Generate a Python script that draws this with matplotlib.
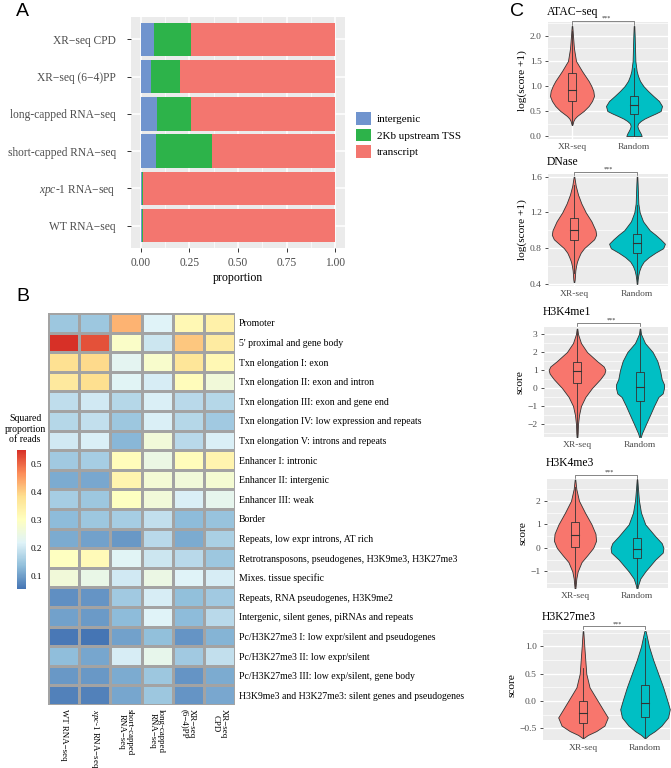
import matplotlib
matplotlib.use('Agg')
import matplotlib.pyplot as plt
import numpy as np
from matplotlib.colors import LinearSegmentedColormap
from matplotlib.patches import Patch, Rectangle
from matplotlib.ticker import MultipleLocator

plt.rcParams['font.family'] = ['Liberation Serif', 'DejaVu Serif']
plt.rcParams['mathtext.fontset'] = 'custom'
plt.rcParams['mathtext.rm'] = 'Liberation Serif'
plt.rcParams['mathtext.it'] = 'Liberation Serif:italic'

# ---------------- Panel A data ----------------
samples_A = ["XR−seq CPD", "XR−seq (6−4)PP", "long-capped RNA−seq",
             "short-capped RNA−seq", r"$\mathit{xpc}$-$\mathit{1}$ RNA−seq", "WT RNA−seq"]
intergenic = [0.067, 0.055, 0.082, 0.079, 0.004, 0.004]
upstream_tss = [0.193, 0.149, 0.174, 0.285, 0.008, 0.008]
transcript = [0.740, 0.796, 0.744, 0.636, 0.988, 0.988]
region_labels = ["intergenic", "2Kb upstream TSS", "transcript"]
region_colors = ["#7094CE", "#2DB34A", "#F3766F"]

# ---------------- Panel B data ----------------
states = ["Promoter", "5' proximal and gene body", "Txn elongation I: exon",
          "Txn elongation II: exon and intron", "Txn elongation III: exon and gene end",
          "Txn elongation IV: low expression and repeats", "Txn elongation V: introns and repeats",
          "Enhancer I: intronic", "Enhancer II: intergenic", "Enhancer III: weak", "Border",
          "Repeats, low expr introns, AT rich",
          "Retrotransposons, pseudogenes, H3K9me3, H3K27me3", "Mixes. tissue specific",
          "Repeats, RNA pseudogenes, H3K9me2", "Intergenic, silent genes, piRNAs and repeats",
          "Pc/H3K27me3 I: low expr/silent and pseudogenes", "Pc/H3K27me3 II: low expr/silent",
          "Pc/H3K27me3 III: low exp/silent, gene body",
          "H3K9me3 and H3K27me3: silent genes and pseudogenes"]
heat_cols = ["WT RNA−seq", r"$\mathit{xpc}$-$\mathit{1}$ RNA−seq", "short-capped\nRNA−seq",
             "long-capped\nRNA−seq", "XR−seq\n(6−4)PP", "XR−seq\nCPD"]
wt_rna = [0.15, 0.55, 0.38, 0.36, 0.185, 0.175, 0.205, 0.155, 0.115, 0.16,
          0.135, 0.115, 0.30, 0.265, 0.085, 0.105, 0.06, 0.138, 0.095, 0.07]
xpc_rna = [0.15, 0.52, 0.39, 0.385, 0.205, 0.19, 0.215, 0.16, 0.112, 0.15,
           0.15, 0.105, 0.315, 0.245, 0.09, 0.097, 0.055, 0.11, 0.095, 0.07]
short_capped = [0.43, 0.29, 0.23, 0.225, 0.175, 0.15, 0.13, 0.31, 0.33, 0.30,
                0.16, 0.095, 0.225, 0.205, 0.155, 0.135, 0.105, 0.21, 0.115, 0.11]
long_capped = [0.22, 0.20, 0.285, 0.21, 0.215, 0.215, 0.265, 0.25, 0.27, 0.265,
               0.19, 0.18, 0.20, 0.25, 0.21, 0.22, 0.14, 0.24, 0.15, 0.15]
xr_64pp = [0.32, 0.41, 0.37, 0.31, 0.18, 0.175, 0.18, 0.31, 0.265, 0.215,
           0.135, 0.115, 0.18, 0.22, 0.14, 0.135, 0.09, 0.155, 0.09, 0.09]
xr_cpd = [0.34, 0.355, 0.32, 0.265, 0.175, 0.155, 0.215, 0.33, 0.275, 0.235,
          0.145, 0.165, 0.15, 0.21, 0.155, 0.18, 0.125, 0.19, 0.115, 0.112]
cbar_ticks = [0.1, 0.2, 0.3, 0.4, 0.5]

# ---------------- Panel C data ----------------
groups = ["XR-seq", "Random"]
group_colors = ["#F8766D", "#00BFC4"]

atac_xr_y = [0.22, 0.30, 0.35, 0.40, 0.45, 0.50, 0.60, 0.70, 0.80, 0.90, 1.00, 1.10, 1.20, 1.30, 1.50, 1.75, 2.00, 2.20]
atac_xr_w = [0.005, 0.022, 0.043, 0.081, 0.134, 0.188, 0.269, 0.323, 0.355, 0.344, 0.312, 0.269, 0.215, 0.161, 0.065, 0.032, 0.016, 0.005]
atac_rd_y = [0.0, 0.05, 0.10, 0.15, 0.20, 0.25, 0.30, 0.35, 0.40, 0.45, 0.50, 0.60, 0.70, 0.80, 0.90, 1.00, 1.10, 1.20, 1.30, 1.50, 2.00, 2.20]
atac_rd_w = [0.124, 0.108, 0.086, 0.065, 0.054, 0.065, 0.108, 0.172, 0.258, 0.349, 0.430, 0.452, 0.403, 0.312, 0.226, 0.151, 0.097, 0.065, 0.043, 0.022, 0.011, 0.005]
atac_xr_box = [0.22, 0.70, 0.92, 1.27, 2.10]
atac_rd_box = [0.0, 0.45, 0.62, 0.81, 1.35]

dnase_xr_y = [0.42, 0.45, 0.50, 0.55, 0.60, 0.65, 0.70, 0.75, 0.80, 0.85, 0.90, 0.95, 1.00, 1.10, 1.20, 1.30, 1.40, 1.50, 1.60]
dnase_xr_w = [0.005, 0.011, 0.016, 0.021, 0.032, 0.048, 0.075, 0.107, 0.16, 0.24, 0.32, 0.352, 0.341, 0.277, 0.187, 0.117, 0.064, 0.027, 0.005]
dnase_rd_y = [0.40, 0.45, 0.50, 0.55, 0.60, 0.65, 0.70, 0.75, 0.80, 0.85, 0.90, 0.95, 1.00, 1.10, 1.20, 1.30, 1.40, 1.50, 1.60]
dnase_rd_w = [0.005, 0.011, 0.021, 0.037, 0.064, 0.107, 0.187, 0.293, 0.416, 0.443, 0.373, 0.293, 0.203, 0.096, 0.043, 0.021, 0.016, 0.011, 0.005]
dnase_xr_box = [0.52, 0.893, 0.998, 1.14, 1.51]
dnase_rd_box = [0.43, 0.747, 0.856, 0.96, 1.28]

k4me1_xr_y = [-2.8, -2.5, -2.0, -1.5, -1.0, -0.5, 0.0, 0.5, 0.8, 1.0, 1.2, 1.5, 2.0, 2.5, 3.0, 3.3]
k4me1_xr_w = [0.005, 0.011, 0.016, 0.032, 0.063, 0.132, 0.238, 0.37, 0.434, 0.45, 0.423, 0.317, 0.159, 0.063, 0.016, 0.005]
k4me1_rd_y = [-2.8, -2.5, -2.0, -1.5, -1.0, -0.5, -0.3, 0.0, 0.2, 0.5, 1.0, 1.5, 2.0, 2.5, 3.0, 3.3]
k4me1_rd_w = [0.005, 0.032, 0.095, 0.159, 0.222, 0.291, 0.36, 0.381, 0.381, 0.344, 0.317, 0.275, 0.201, 0.079, 0.016, 0.005]
k4me1_xr_box = [-2.8, 0.30, 0.92, 1.46, 3.2]
k4me1_rd_box = [-2.8, -0.73, 0.07, 0.90, 3.3]

k4me3_xr_y = [-1.75, -1.6, -1.3, -1.0, -0.6, -0.3, 0.0, 0.3, 0.6, 1.0, 1.5, 2.0, 2.5, 2.9]
k4me3_xr_w = [0.005, 0.011, 0.021, 0.043, 0.106, 0.202, 0.293, 0.34, 0.33, 0.266, 0.16, 0.064, 0.021, 0.005]
k4me3_rd_y = [-1.75, -1.6, -1.3, -1.0, -0.5, -0.2, 0.0, 0.2, 0.5, 1.0, 1.5, 2.0, 2.5, 2.9]
k4me3_rd_w = [0.005, 0.016, 0.053, 0.133, 0.293, 0.415, 0.426, 0.399, 0.293, 0.133, 0.064, 0.032, 0.016, 0.005]
k4me3_xr_box = [-1.6, 0.04, 0.54, 1.08, 2.6]
k4me3_rd_box = [-1.7, -0.41, -0.03, 0.43, 2.9]

k27me3_xr_y = [-0.68, -0.62, -0.55, -0.45, -0.30, -0.15, 0.0, 0.25, 0.5, 1.0, 1.28]
k27me3_xr_w = [0.005, 0.08, 0.213, 0.346, 0.4, 0.319, 0.239, 0.106, 0.053, 0.021, 0.005]
k27me3_rd_y = [-0.68, -0.62, -0.55, -0.45, -0.30, -0.15, 0.0, 0.25, 0.5, 0.75, 1.0, 1.28]
k27me3_rd_w = [0.005, 0.064, 0.16, 0.266, 0.372, 0.4, 0.362, 0.293, 0.213, 0.133, 0.064, 0.011]
k27me3_xr_box = [-0.68, -0.40, -0.21, 0.0, 0.6]
k27me3_rd_box = [-0.68, -0.29, -0.04, 0.29, 1.16]

violin_titles = ["ATAC−seq", "DNase", "H3K4me1", "H3K4me3", "H3K27me3"]
violin_ylabels = ["log(score +1)", "log(score +1)", "score", "score", "score"]
violin_ticks = [[0.0, 0.5, 1.0, 1.5, 2.0], [0.4, 0.8, 1.2, 1.6], [-2, -1, 0, 1, 2, 3],
                [-1, 0, 1, 2], [-0.5, 0.0, 0.5, 1.0]]
violin_ticklabels = [["0.0", "0.5", "1.0", "1.5", "2.0"], ["0.4", "0.8", "1.2", "1.6"],
                     ["−2", "−1", "0", "1", "2", "3"], ["−1", "0", "1", "2"],
                     ["−0.5", "0.0", "0.5", "1.0"]]

# ---------------- figure ----------------
W, H = 671, 768
fig = plt.figure(figsize=(W / 100, H / 100), dpi=100)


def add_ax(l, t, r, b):
    return fig.add_axes([l / W, 1 - b / H, (r - l) / W, (b - t) / H])


GREY_BG = "#EBEBEB"
TXT = "#4D4D4D"

# ---- Panel A ----
axA = add_ax(131, 17, 345, 248)
axA.set_facecolor(GREY_BG)
n = len(samples_A)
ypos = np.arange(n)
left = np.zeros(n)
for vals, col, lab in zip([intergenic, upstream_tss, transcript], region_colors, region_labels):
    axA.barh(ypos, vals, left=left, height=0.9, color=col, label=lab, zorder=3)
    left = left + np.array(vals)
axA.set_xlim(-0.05, 1.05)
axA.set_ylim(n - 0.4, -0.6)
axA.set_xticks([0, 0.25, 0.5, 0.75, 1.0])
axA.set_xticklabels(["0.00", "0.25", "0.50", "0.75", "1.00"])
axA.xaxis.set_minor_locator(MultipleLocator(0.125))
axA.grid(True, which='major', color='white', lw=1.1, zorder=0)
axA.grid(True, which='minor', axis='x', color='white', lw=0.5, zorder=0)
axA.set_yticks(ypos)
axA.set_yticklabels(samples_A)
axA.tick_params(axis='both', labelsize=8.3, labelcolor=TXT, color='#333333', length=3, width=0.7)
axA.tick_params(axis='y', pad=8)
axA.tick_params(axis='x', which='minor', length=0)
axA.set_xlabel("proportion", fontsize=8.6, labelpad=2)
for s in axA.spines.values():
    s.set_visible(False)
handles = [Patch(facecolor=c, edgecolor='none', label=l) for c, l in zip(region_colors, region_labels)]
fig.legend(handles=handles, loc='center left', bbox_to_anchor=(356 / W, 1 - 135 / H), frameon=False,
           fontsize=8, handlelength=1.35, handleheight=1.35, labelspacing=0.35, handletextpad=0.5,
           borderaxespad=0, borderpad=0)

# ---- Panel B ----
heat = np.array([wt_rna, xpc_rna, short_capped, long_capped, xr_64pp, xr_cpd]).T
cmap = LinearSegmentedColormap.from_list(
    "rdylbu7", ["#4575B4", "#91BFDB", "#E0F3F8", "#FFFFBF", "#FEE090", "#FC8D59", "#D73027"])
axB = add_ax(48, 313, 235, 705)
mesh = axB.pcolormesh(heat, cmap=cmap, vmin=0.055, vmax=0.55, edgecolors='#A3A3A3', linewidth=0.8)
axB.set_xlim(0, heat.shape[1])
axB.set_ylim(heat.shape[0], 0)
axB.set_yticks(np.arange(len(states)) + 0.5)
axB.set_yticklabels(states, fontsize=7)
axB.yaxis.tick_right()
axB.set_xticks(np.arange(len(heat_cols)) + 0.5)
axB.set_xticklabels(heat_cols, rotation=270, fontsize=6.4, va='top', ha='center', linespacing=1.0)
axB.tick_params(length=0, pad=3)
for s in axB.spines.values():
    s.set_visible(False)

cax = add_ax(17, 450, 26, 589)
cb = fig.colorbar(mesh, cax=cax)
cb.outline.set_visible(False)
cb.set_ticks(cbar_ticks)
cb.set_ticklabels([f"{t:.1f}" for t in cbar_ticks])
cax.tick_params(length=0, labelsize=6.6, pad=3)
fig.text(25 / W, 1 - 429 / H, "Squared\nproportion\nof reads", ha='center', va='center',
         fontsize=7, linespacing=1.15)

# ---- Panel C ----
violin_data = [
    (atac_xr_y, atac_xr_w, atac_rd_y, atac_rd_w, atac_xr_box, atac_rd_box),
    (dnase_xr_y, dnase_xr_w, dnase_rd_y, dnase_rd_w, dnase_xr_box, dnase_rd_box),
    (k4me1_xr_y, k4me1_xr_w, k4me1_rd_y, k4me1_rd_w, k4me1_xr_box, k4me1_rd_box),
    (k4me3_xr_y, k4me3_xr_w, k4me3_rd_y, k4me3_rd_w, k4me3_xr_box, k4me3_rd_box),
    (k27me3_xr_y, k27me3_xr_w, k27me3_rd_y, k27me3_rd_w, k27me3_xr_box, k27me3_rd_box),
]
# layout: (left, top, right, bottom, x of group 1, x of group 2, ymin, ymax, bracket_y, title_y)
violin_layout = [
    (548, 22, 668, 139, 572, 634, -0.06, 2.28, 2.30, 12),
    (548, 174, 668, 286, 574, 637, 0.377, 1.63, 1.655, 162),
    (544, 327, 668, 437, 577, 640, -2.72, 3.39, 3.61, 312),
    (547, 479, 668, 588, 575, 637, -1.70, 2.92, 3.09, 463),
    (543, 630, 670, 740, 583, 645, -0.713, 1.30, 1.37, 617),
]

for i, (data, lay) in enumerate(zip(violin_data, violin_layout)):
    l, t, r, b, x1, x2, y0, y1, yb, ty = lay
    sp = x2 - x1
    ax = add_ax(l, t, r, b)
    ax.set_facecolor(GREY_BG)
    ax.set_xlim(1 - (x1 - l) / sp, 2 + (r - x2) / sp)
    ax.set_ylim(y0, y1)
    xr_y, xr_w, rd_y, rd_w, xr_box, rd_box = data
    for pos, yy, ww, bx, col in [(1, xr_y, xr_w, xr_box, group_colors[0]),
                                 (2, rd_y, rd_w, rd_box, group_colors[1])]:
        yy = np.array(yy)
        ww = np.array(ww)
        ax.fill_betweenx(yy, pos - ww, pos + ww, facecolor=col, edgecolor='#333333',
                         lw=0.6, zorder=3)
        lo, q1, med, q3, hi = bx
        ax.plot([pos, pos], [lo, q1], color='#333333', lw=0.6, zorder=4)
        ax.plot([pos, pos], [q3, hi], color='#333333', lw=0.6, zorder=4)
        ax.add_patch(Rectangle((pos - 0.065, q1), 0.13, q3 - q1, facecolor='none',
                               edgecolor='#333333', lw=0.6, zorder=4))
        ax.plot([pos - 0.065, pos + 0.065], [med, med], color='#333333', lw=0.8, zorder=4)
    ticks = violin_ticks[i]
    ax.set_yticks(ticks)
    ax.set_yticklabels(violin_ticklabels[i])
    step = ticks[1] - ticks[0]
    ax.yaxis.set_minor_locator(MultipleLocator(step / 2))
    ax.grid(True, which='major', color='white', lw=1.0, zorder=0)
    ax.grid(True, which='minor', axis='y', color='white', lw=0.5, zorder=0)
    ax.set_xticks([1, 2])
    ax.set_xticklabels(groups)
    ax.tick_params(axis='both', labelsize=6.8, labelcolor=TXT, color='#333333', length=2.5,
                   width=0.6, pad=2)
    ax.tick_params(axis='x', length=0, pad=3)
    ax.tick_params(axis='y', which='minor', length=0)
    for s in ax.spines.values():
        s.set_visible(False)
    ax.set_ylabel(violin_ylabels[i], fontsize=8.2, labelpad=2)
    fig.text((l - 1) / W, 1 - ty / H, violin_titles[i], ha='left', va='center', fontsize=8.4)
    # significance bracket
    dy = (y1 - y0) * 0.03
    ax.plot([1, 1, 2, 2], [yb - dy, yb, yb, yb - dy], color='#555555', lw=0.5, clip_on=False, zorder=5)
    ax.text(1.55, yb, "***", ha='center', va='bottom', fontsize=4.5, color='#333333', clip_on=False)

# panel letters
for letter, (px, py) in zip("ABC", [(22, 12), (23, 296), (517, 12)]):
    fig.text(px / W, 1 - py / H, letter, ha='center', va='center', fontsize=14,
             family='Liberation Sans')

fig.savefig("out.png", dpi=100)
